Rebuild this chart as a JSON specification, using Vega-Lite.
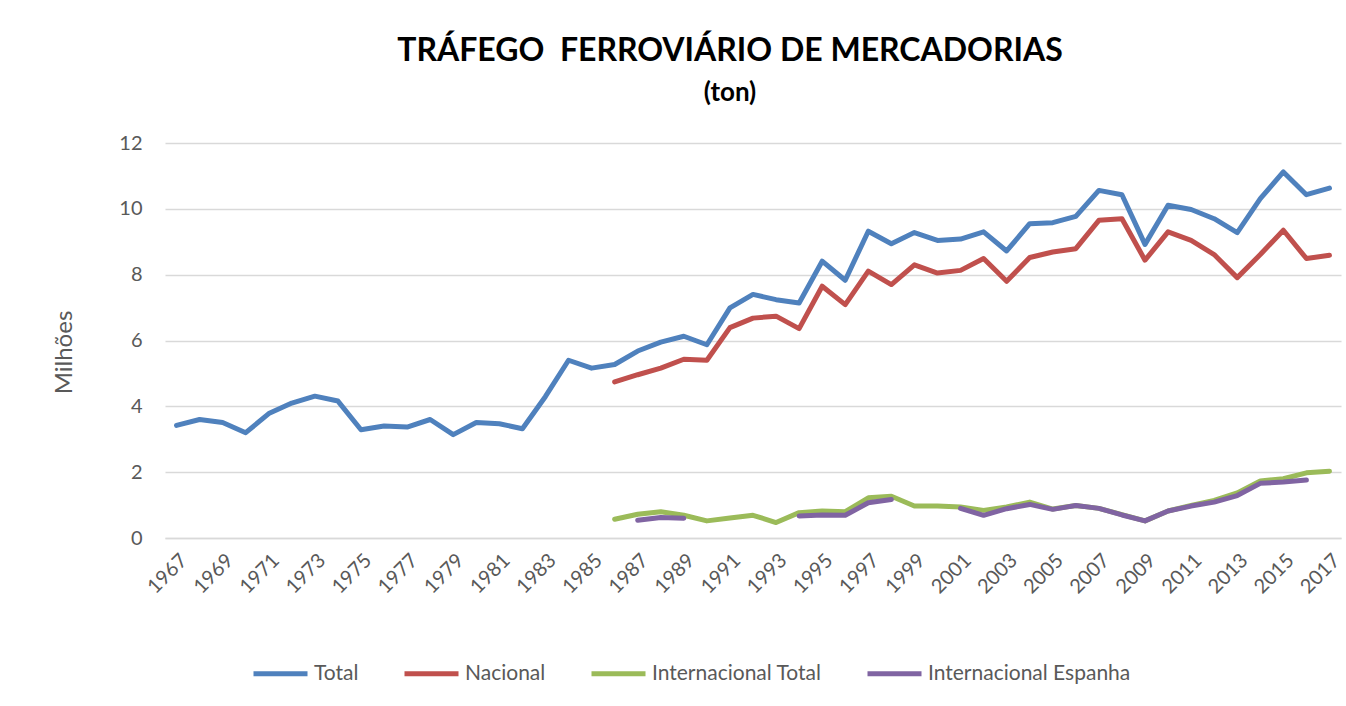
{
  "$schema": "https://vega.github.io/schema/vega-lite/v6.json",
  "width": 1176,
  "height": 395,
  "autosize": {"type": "none"},
  "padding": {"left": 165, "top": 143, "right": 5, "bottom": 168},
  "background": "white",
  "title": {
    "text": "TRÁFEGO\u00a0 FERROVIÁRIO DE MERCADORIAS",
    "subtitle": "(ton)",
    "anchor": "middle",
    "dx": -23,
    "offset": 26,
    "font": "Lato",
    "fontSize": 32,
    "fontWeight": "bold",
    "color": "#000000",
    "subtitleFont": "Lato",
    "subtitleFontSize": 26,
    "subtitleFontWeight": "bold",
    "subtitleColor": "#000000",
    "subtitlePadding": 12
  },
  "config": {"view": {"stroke": null}},
  "data": {
    "values": [
      {"Ano": 1967, "Total": 3.42},
      {"Ano": 1968, "Total": 3.60},
      {"Ano": 1969, "Total": 3.51},
      {"Ano": 1970, "Total": 3.20},
      {"Ano": 1971, "Total": 3.78},
      {"Ano": 1972, "Total": 4.10},
      {"Ano": 1973, "Total": 4.31},
      {"Ano": 1974, "Total": 4.16},
      {"Ano": 1975, "Total": 3.29},
      {"Ano": 1976, "Total": 3.40},
      {"Ano": 1977, "Total": 3.37},
      {"Ano": 1978, "Total": 3.60},
      {"Ano": 1979, "Total": 3.14},
      {"Ano": 1980, "Total": 3.51},
      {"Ano": 1981, "Total": 3.47},
      {"Ano": 1982, "Total": 3.32},
      {"Ano": 1983, "Total": 4.30},
      {"Ano": 1984, "Total": 5.40},
      {"Ano": 1985, "Total": 5.16},
      {"Ano": 1986, "Total": 5.27, "Nacional": 4.74, "Internacional Total": 0.57, "Internacional Espanha": null},
      {"Ano": 1987, "Total": 5.68, "Nacional": 4.96, "Internacional Total": 0.72, "Internacional Espanha": 0.54},
      {"Ano": 1988, "Total": 5.95, "Nacional": 5.16, "Internacional Total": 0.80, "Internacional Espanha": 0.62},
      {"Ano": 1989, "Total": 6.13, "Nacional": 5.43, "Internacional Total": 0.69, "Internacional Espanha": 0.60},
      {"Ano": 1990, "Total": 5.87, "Nacional": 5.40, "Internacional Total": 0.52, "Internacional Espanha": null},
      {"Ano": 1991, "Total": 6.99, "Nacional": 6.39, "Internacional Total": 0.61, "Internacional Espanha": null},
      {"Ano": 1992, "Total": 7.40, "Nacional": 6.68, "Internacional Total": 0.69, "Internacional Espanha": null},
      {"Ano": 1993, "Total": 7.24, "Nacional": 6.74, "Internacional Total": 0.47, "Internacional Espanha": null},
      {"Ano": 1994, "Total": 7.14, "Nacional": 6.36, "Internacional Total": 0.77, "Internacional Espanha": 0.67},
      {"Ano": 1995, "Total": 8.41, "Nacional": 7.65, "Internacional Total": 0.82, "Internacional Espanha": 0.70},
      {"Ano": 1996, "Total": 7.83, "Nacional": 7.09, "Internacional Total": 0.80, "Internacional Espanha": 0.69},
      {"Ano": 1997, "Total": 9.32, "Nacional": 8.11, "Internacional Total": 1.22, "Internacional Espanha": 1.07},
      {"Ano": 1998, "Total": 8.94, "Nacional": 7.70, "Internacional Total": 1.27, "Internacional Espanha": 1.17},
      {"Ano": 1999, "Total": 9.28, "Nacional": 8.30, "Internacional Total": 0.97, "Internacional Espanha": null},
      {"Ano": 2000, "Total": 9.04, "Nacional": 8.05, "Internacional Total": 0.97, "Internacional Espanha": null},
      {"Ano": 2001, "Total": 9.08, "Nacional": 8.13, "Internacional Total": 0.94, "Internacional Espanha": 0.90},
      {"Ano": 2002, "Total": 9.30, "Nacional": 8.49, "Internacional Total": 0.84, "Internacional Espanha": 0.69},
      {"Ano": 2003, "Total": 8.72, "Nacional": 7.80, "Internacional Total": 0.94, "Internacional Espanha": 0.89},
      {"Ano": 2004, "Total": 9.55, "Nacional": 8.52, "Internacional Total": 1.09, "Internacional Espanha": 1.02},
      {"Ano": 2005, "Total": 9.58, "Nacional": 8.69, "Internacional Total": 0.88, "Internacional Espanha": 0.87},
      {"Ano": 2006, "Total": 9.77, "Nacional": 8.79, "Internacional Total": 0.99, "Internacional Espanha": 0.99},
      {"Ano": 2007, "Total": 10.56, "Nacional": 9.65, "Internacional Total": 0.90, "Internacional Espanha": 0.90},
      {"Ano": 2008, "Total": 10.43, "Nacional": 9.70, "Internacional Total": 0.71, "Internacional Espanha": 0.70},
      {"Ano": 2009, "Total": 8.92, "Nacional": 8.44, "Internacional Total": 0.52, "Internacional Espanha": 0.52},
      {"Ano": 2010, "Total": 10.11, "Nacional": 9.30, "Internacional Total": 0.82, "Internacional Espanha": 0.82},
      {"Ano": 2011, "Total": 9.98, "Nacional": 9.04, "Internacional Total": 0.99, "Internacional Espanha": 0.97},
      {"Ano": 2012, "Total": 9.70, "Nacional": 8.61, "Internacional Total": 1.14, "Internacional Espanha": 1.09},
      {"Ano": 2013, "Total": 9.28, "Nacional": 7.91, "Internacional Total": 1.37, "Internacional Espanha": 1.29},
      {"Ano": 2014, "Total": 10.31, "Nacional": 8.61, "Internacional Total": 1.73, "Internacional Espanha": 1.66},
      {"Ano": 2015, "Total": 11.12, "Nacional": 9.35, "Internacional Total": 1.80, "Internacional Espanha": 1.70},
      {"Ano": 2016, "Total": 10.43, "Nacional": 8.49, "Internacional Total": 1.98, "Internacional Espanha": 1.76},
      {"Ano": 2017, "Total": 10.63, "Nacional": 8.59, "Internacional Total": 2.03, "Internacional Espanha": null}
    ]
  },
  "transform": [
    {"fold": ["Total", "Nacional", "Internacional Total", "Internacional Espanha"], "as": ["Série", "Valor"]}
  ],
  "mark": {"type": "line", "strokeWidth": 5, "strokeJoin": "round", "strokeCap": "round", "invalid": "break-paths-show-domains"},
  "encoding": {
    "x": {
      "field": "Ano",
      "type": "quantitative",
      "scale": {"domain": [1966.5, 2017.5], "nice": false, "zero": false},
      "axis": {
        "values": [1967, 1969, 1971, 1973, 1975, 1977, 1979, 1981, 1983, 1985, 1987, 1989, 1991, 1993, 1995, 1997, 1999, 2001, 2003, 2005, 2007, 2009, 2011, 2013, 2015, 2017],
        "format": "d",
        "labelAngle": -45,
        "grid": false,
        "ticks": false,
        "domainColor": "#d9d9d9",
        "domainWidth": 1.5,
        "labelFont": "Lato",
        "labelFontSize": 20,
        "labelColor": "#595959",
        "labelPadding": 12,
        "labelOverlap": false,
        "title": null
      }
    },
    "y": {
      "field": "Valor",
      "type": "quantitative",
      "scale": {"domain": [0, 12], "nice": false},
      "axis": {
        "values": [0, 2, 4, 6, 8, 10, 12],
        "title": "Milhões",
        "titleFont": "Lato",
        "titleFontSize": 24,
        "titleFontWeight": "normal",
        "titleColor": "#595959",
        "titlePadding": 42,
        "titleY": 209,
        "labelFont": "Lato",
        "labelFontSize": 20,
        "labelColor": "#595959",
        "labelPadding": 23,
        "ticks": false,
        "domain": false,
        "grid": true,
        "gridColor": "#d9d9d9",
        "gridWidth": 1.5
      }
    },
    "color": {
      "field": "Série",
      "type": "nominal",
      "sort": ["Total", "Nacional", "Internacional Total", "Internacional Espanha"],
      "scale": {
        "domain": ["Total", "Nacional", "Internacional Total", "Internacional Espanha"],
        "range": ["#4f81bd", "#c0504d", "#9bbb59", "#8064a2"]
      },
      "legend": {
        "title": null,
        "orient": "none",
        "direction": "horizontal",
        "legendX": 86,
        "legendY": 501,
        "symbolType": "stroke",
        "symbolSize": 2916,
        "symbolStrokeWidth": 5,
        "labelOffset": 4,
        "labelFont": "Lato",
        "labelFontSize": 21,
        "labelColor": "#595959",
        "labelLimit": 0,
        "columnPadding": 35
      }
    }
  }
}
